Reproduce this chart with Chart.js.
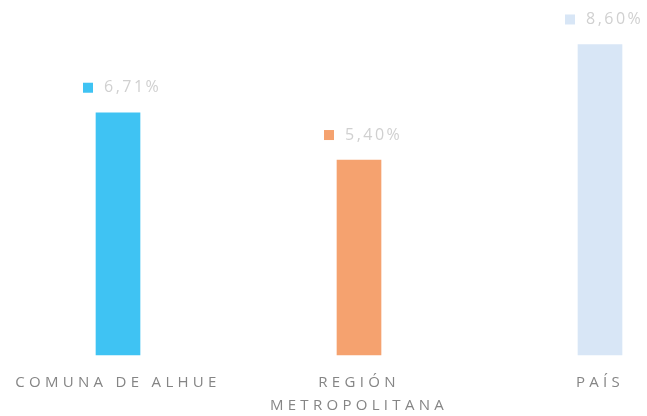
<!DOCTYPE html>
<html>
<head>
<meta charset="utf-8">
<script src="https://cdn.jsdelivr.net/npm/chart.js@4.4.1/dist/chart.umd.min.js"></script>
<style>
  html, body { margin: 0; padding: 0; background: #fff; }
  #wrap { width: 647px; height: 416px; }
</style>
</head>
<body>
<div id="wrap"><canvas id="grafico"></canvas></div>
<script>
const categorias = [['COMUNA DE ALHUE'], ['REGIÓN', 'METROPOLITANA'], ['PAÍS']];
const valores = [6.71, 5.40, 8.60];
const etiquetas = ['6,71%', '5,40%', '8,60%'];
const colores = ['#3fc3f3', '#f5a26f', '#d8e6f6'];

// etiqueta con cuadradito encima de cada barra
const etiquetasPlugin = {
  id: 'etiquetas',
  afterDatasetsDraw(chart) {
    const ctx = chart.ctx;
    const meta = chart.getDatasetMeta(0);
    ctx.save();
    ctx.letterSpacing = '2.5px';
    ctx.font = '16px "Open Sans"';
    ctx.textBaseline = 'middle';
    ctx.textAlign = 'left';
    meta.data.forEach((barra, i) => {
      const y = barra.y - 25;
      ctx.fillStyle = colores[i];
      ctx.fillRect(barra.x - 35, y - 5, 10, 10);
      ctx.fillStyle = '#d0d0d0';
      ctx.fillText(etiquetas[i], barra.x - 14, y);
    });
    ctx.restore();
  }
};

const espaciado = {
  id: 'espaciado',
  beforeDraw(chart) {
    chart.ctx.letterSpacing = '4.3px';
  }
};

new Chart(document.getElementById('grafico'), {
  type: 'bar',
  data: {
    labels: categorias,
    datasets: [{
      data: valores,
      backgroundColor: colores,
      barThickness: 44,
      clip: false
    }]
  },
  options: {
    responsive: true,
    maintainAspectRatio: false,
    animation: false,
    layout: { padding: { top: 12, left: 118, right: 47, bottom: 0 } },
    plugins: {
      legend: { display: false },
      tooltip: { enabled: false }
    },
    scales: {
      x: {
        offset: false,
        grid: { display: false, drawTicks: false },
        border: { display: false },
        ticks: {
          maxRotation: 0,
          autoSkip: false,
          padding: 16,
          color: '#858585',
          font: { family: '"Open Sans"', size: 15, lineHeight: 1.53 }
        },
        afterFit(scale) { scale.height = 61; }
      },
      y: {
        display: false,
        min: 0,
        max: 9.5
      }
    }
  },
  plugins: [etiquetasPlugin, espaciado]
});
</script>
</body>
</html>
